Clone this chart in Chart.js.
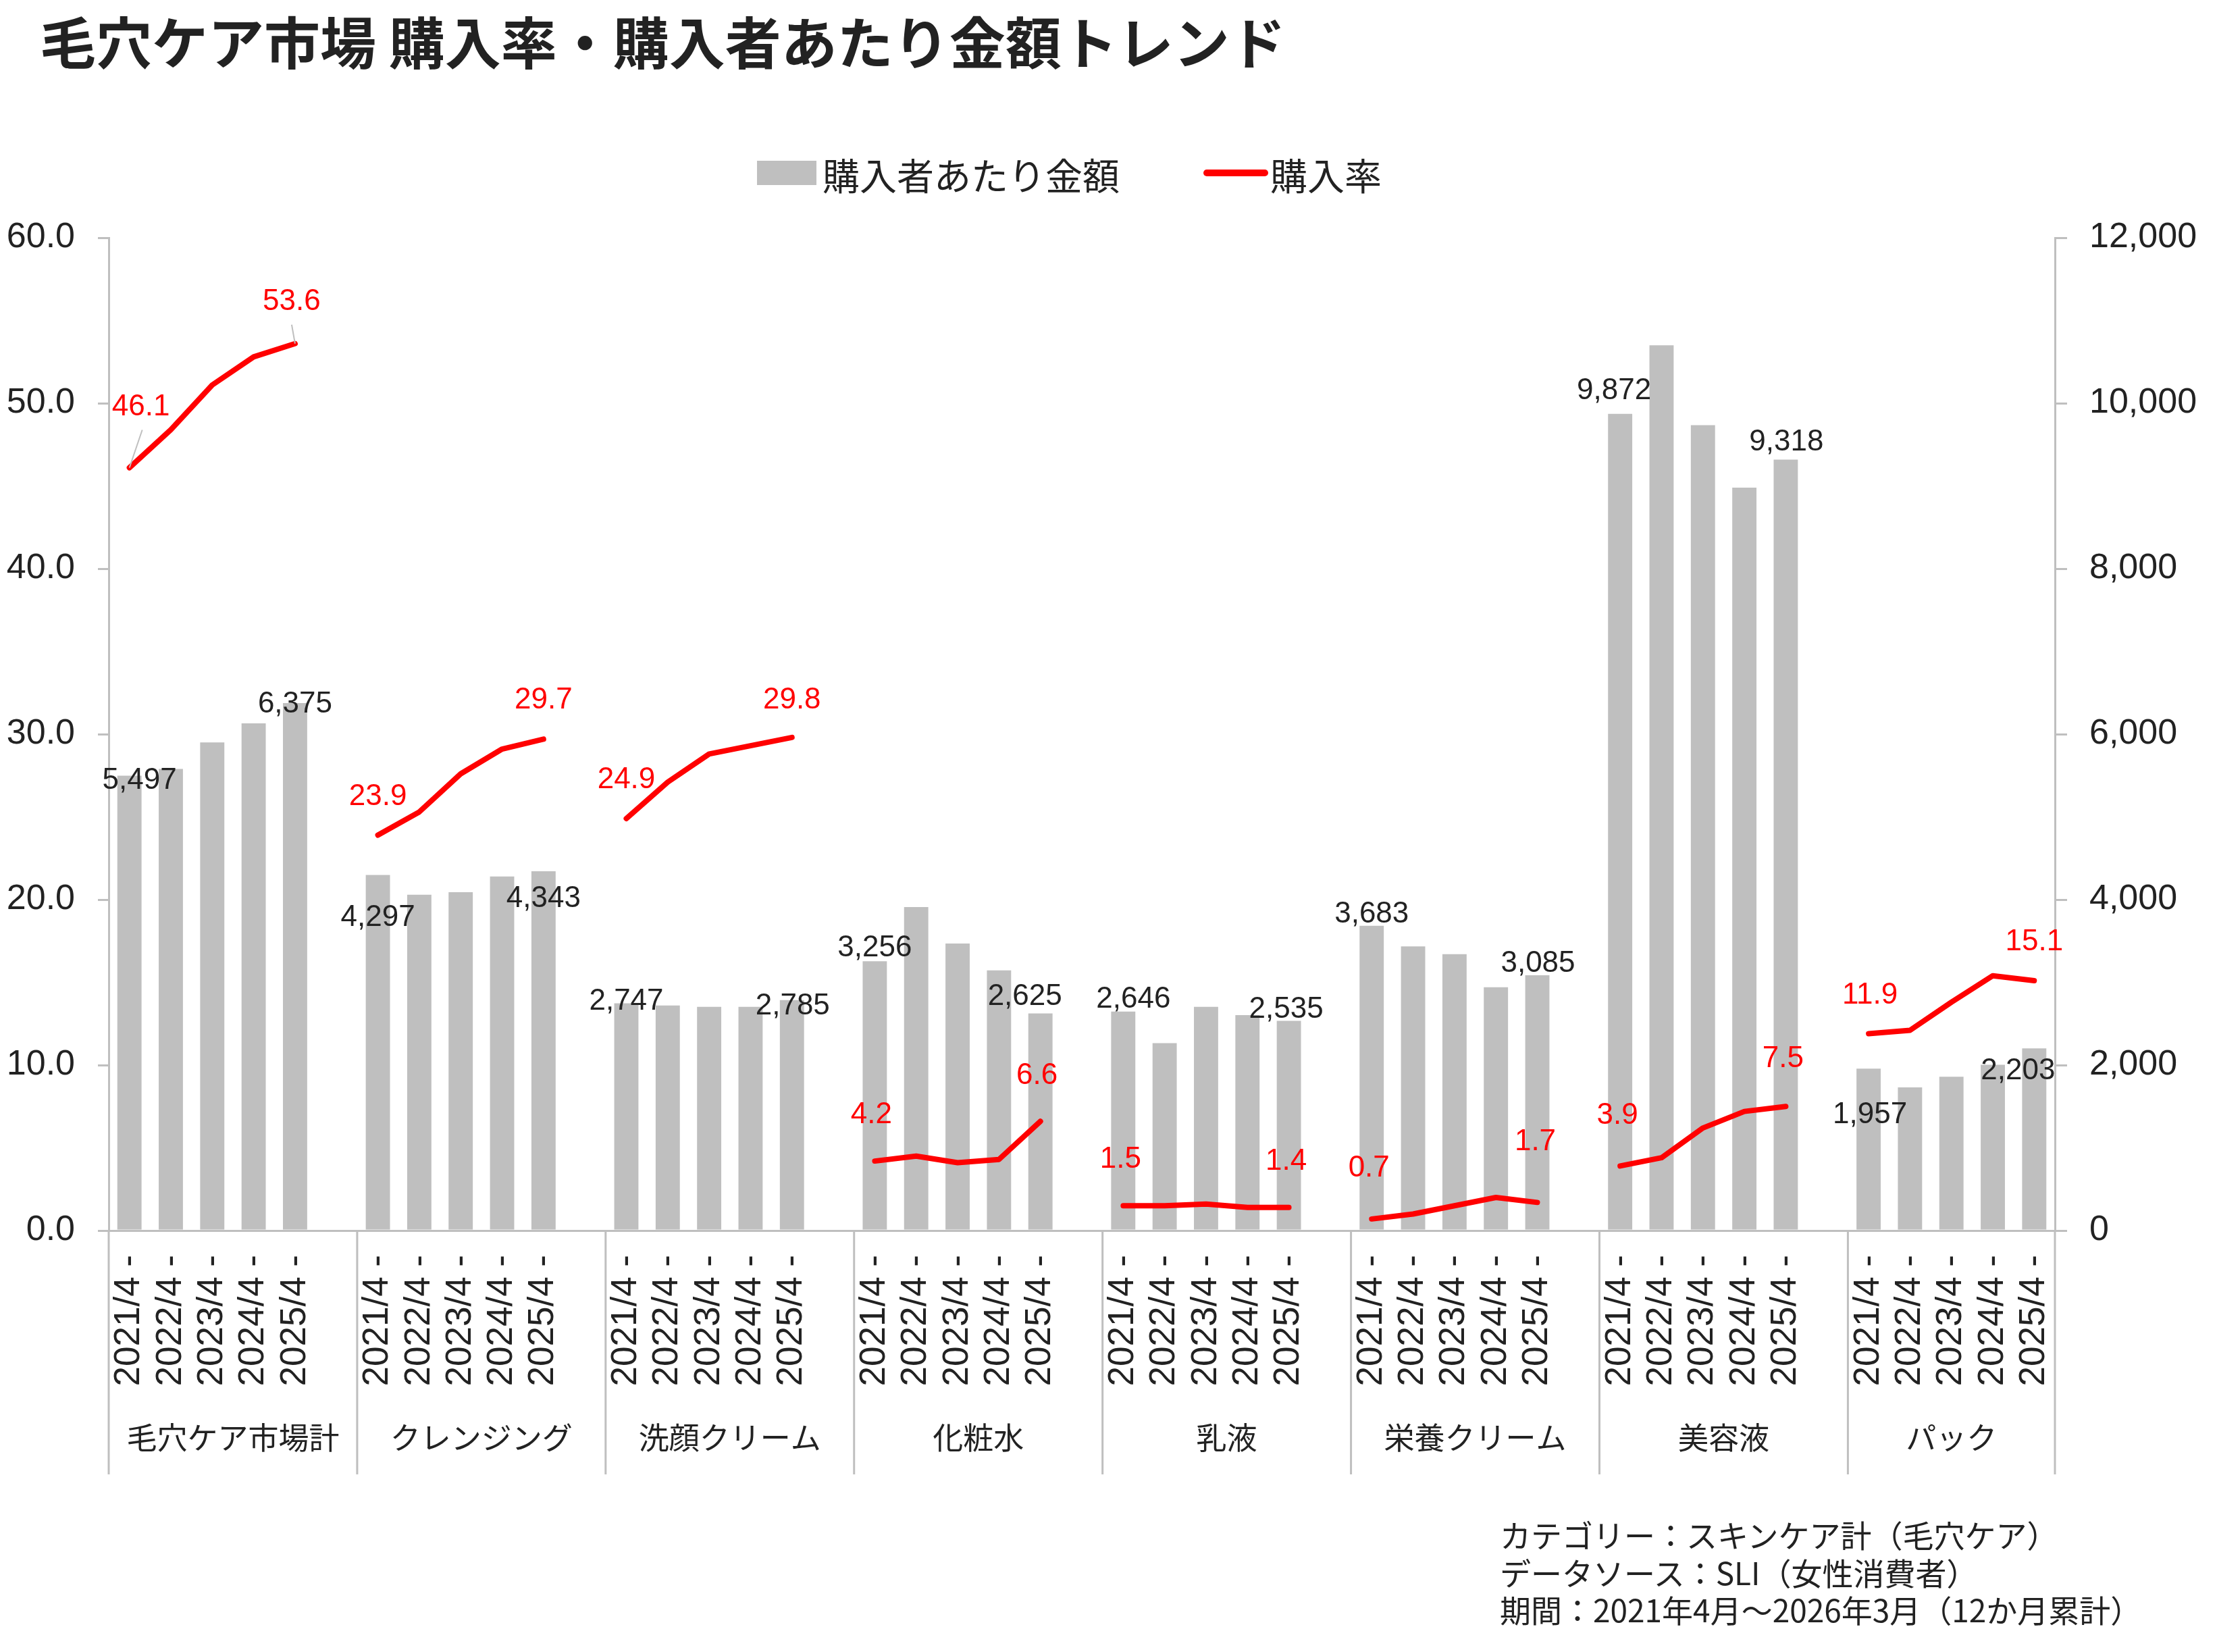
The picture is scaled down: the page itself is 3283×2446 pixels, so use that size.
<!DOCTYPE html>
<html><head><meta charset="utf-8">
<script src="https://cdn.jsdelivr.net/npm/chart.js@4.4.1/dist/chart.umd.min.js"></script>
<style>
html,body{margin:0;padding:0;background:#fff;}
#wrap{position:relative;width:3283px;height:2446px;overflow:hidden;background:#fff;}
#c{position:absolute;left:0;top:0;}
.t{position:absolute;white-space:nowrap;font-family:"Noto Sans CJK JP","Noto Sans",sans-serif;color:#222;}
.box{position:absolute;}
</style></head><body>
<div id="wrap">
<canvas id="c" width="3283" height="2446"></canvas>
<div class="t" id="title" style="left:59px;top:18px;font-size:83px;line-height:83px;font-weight:700;"></div>
<div class="box" style="left:1121px;top:238px;width:88px;height:36px;background:#BFBFBF"></div>
<div class="t" id="leg1" style="left:1218px;top:230px;font-size:55px;line-height:55px;"></div>
<div class="box" style="left:1782px;top:251px;width:96px;height:10px;border-radius:5px;background:#FF0000"></div>
<div class="t" id="leg2" style="left:1881px;top:230px;font-size:55px;line-height:55px;"></div>
<div class="t" id="foot" style="left:2221px;top:2244px;font-size:46px;line-height:55.5px;"></div>
</div>
<script>
// ---- text ----
const titleText = '毛穴ケア市場 購入率・購入者あたり金額トレンド';
const spendName = '購入者あたり金額';
const rateName = '購入率';
const footLines = ['カテゴリー：スキンケア計（毛穴ケア）','データソース：SLI（女性消費者）','期間：2021年4月～2026年3月（12か月累計）'];

// ---- categories ----
const groups = ['毛穴ケア市場計','クレンジング','洗顔クリーム','化粧水','乳液','栄養クリーム','美容液','パック'];
const periods = ['2021/4','2022/4','2023/4','2024/4','2025/4'];

// ---- 購入者あたり金額 (円) ----
const spendPore      = [5497, 5580, 5900, 6130, 6375];
const spendCleansing = [4297, 4060, 4090, 4280, 4343];
const spendFaceWash  = [2747, 2720, 2705, 2705, 2785];
const spendLotion    = [3256, 3910, 3470, 3145, 2625];
const spendMilk      = [2646, 2265, 2705, 2605, 2535];
const spendCream     = [3683, 3435, 3340, 2940, 3085];
const spendSerum     = [9872, 10700, 9735, 8980, 9318];
const spendMask      = [1957, 1730, 1860, 2005, 2203];

// ---- 購入率 (%) ----
const ratePore      = [46.1, 48.4, 51.1, 52.8, 53.6];
const rateCleansing = [23.9, 25.3, 27.6, 29.1, 29.7];
const rateFaceWash  = [24.9, 27.1, 28.8, 29.3, 29.8];
const rateLotion    = [4.2, 4.5, 4.1, 4.3, 6.6];
const rateMilk      = [1.5, 1.5, 1.6, 1.4, 1.4];
const rateCream     = [0.7, 1.0, 1.5, 2.0, 1.7];
const rateSerum     = [3.9, 4.4, 6.2, 7.2, 7.5];
const rateMask      = [11.9, 12.1, 13.8, 15.4, 15.1];

// ---- tick labels ----
const leftTicks  = [0, 10, 20, 30, 40, 50, 60];
const rightTicks = [0, 2000, 4000, 6000, 8000, 10000, 12000];

// ---- label placement (layout only) ----
const spendLabelShift = [[15,7],[0,2],[0,63],[0,41],[0,-3],[1,9],[0,-19],[-23,-25],[15,-18],[-4,-17],[0,-17],[1,-17],[-9,-34],[1,-26],[2,69],[-24,34]];
const rateLabelShift  = [[17,-90],[-5,-62],[0,-57],[0,-57],[0,-57],[0,-55],[-5,-68],[-5,-67],[-4,-68],[-4,-68],[-4,-75],[-3,-89],[-4,-75],[-4,-70],[2,-57],[0,-57]];
const rateLeaders = {0:[19,-56], 1:[-5,-28]};

document.getElementById('title').textContent = titleText;
document.getElementById('leg1').textContent = spendName;
document.getElementById('leg2').textContent = rateName;
document.getElementById('foot').innerHTML = footLines.map(s=>s.replace(/&/g,'&amp;').replace(/</g,'&lt;')).join('<br>');

const spendGroups = [spendPore, spendCleansing, spendFaceWash, spendLotion, spendMilk, spendCream, spendSerum, spendMask];
const rateGroups  = [ratePore, rateCleansing, rateFaceWash, rateLotion, rateMilk, rateCream, rateSerum, rateMask];

const labels = [], spendData = [], rateData = [], groupStart = [];
groups.forEach((g, gi) => {
  groupStart.push(labels.length);
  periods.forEach((p, pi) => {
    labels.push(p + ' -');
    spendData.push(spendGroups[gi][pi]);
    rateData.push(rateGroups[gi][pi]);
  });
  if (gi < groups.length - 1) { labels.push(''); spendData.push(null); rateData.push(null); }
});

const AX = '#BFBFBF';
const TXT = '#222222';
const NUMF = '"Liberation Sans", Arial, sans-serif';

const decor = {
  id: 'decor',
  afterDatasetsDraw(chart) {
    const ctx = chart.ctx, xs = chart.scales.x, area = chart.chartArea;
    const slot = xs.getPixelForValue(1) - xs.getPixelForValue(0);
    ctx.save();
    // group separators
    const bounds = groupStart.map(s => xs.getPixelForValue(s) - slot / 2);
    bounds.push(xs.getPixelForValue(labels.length - 1) + slot / 2);
    ctx.strokeStyle = AX; ctx.lineWidth = 3;
    bounds.forEach(b => { ctx.beginPath(); ctx.moveTo(b, area.bottom); ctx.lineTo(b, 2183); ctx.stroke(); });
    // group labels
    ctx.fillStyle = TXT; ctx.font = '45px "Noto Sans CJK JP"'; ctx.textAlign = 'center'; ctx.textBaseline = 'middle';
    groups.forEach((g, gi) => ctx.fillText(g, (bounds[gi] + bounds[gi + 1]) / 2, 2129));
    // data labels
    const barMeta = chart.getDatasetMeta(0), lineMeta = chart.getDatasetMeta(1);
    ctx.font = '44px ' + NUMF;
    let k = 0;
    groups.forEach((g, gi) => {
      [0, periods.length - 1].forEach(pi => {
        const idx = groupStart[gi] + pi;
        const be = barMeta.data[idx];
        const bs = spendLabelShift[k];
        ctx.fillStyle = TXT;
        ctx.fillText(spendData[idx].toLocaleString('en-US'), be.x + bs[0], be.y + bs[1]);
        const le = lineMeta.data[idx];
        const rs = rateLabelShift[k];
        if (rateLeaders[k]) {
          ctx.strokeStyle = AX; ctx.lineWidth = 2;
          ctx.beginPath(); ctx.moveTo(le.x, le.y); ctx.lineTo(le.x + rateLeaders[k][0], le.y + rateLeaders[k][1]); ctx.stroke();
        }
        ctx.fillStyle = '#FF0000';
        ctx.fillText(rateData[idx].toFixed(1), le.x + rs[0], le.y + rs[1]);
        k++;
      });
    });
    ctx.restore();
  }
};

new Chart(document.getElementById('c'), {
  data: {
    labels: labels,
    datasets: [
      { type: 'bar', label: spendName, data: spendData, yAxisID: 'y1', backgroundColor: '#BFBFBF',
        barPercentage: 0.585, categoryPercentage: 1.0, order: 1 },
      { type: 'line', label: rateName, data: rateData, yAxisID: 'y', borderColor: '#FF0000', borderWidth: 8,
        pointRadius: 0, pointHoverRadius: 0, spanGaps: false, tension: 0, borderCapStyle: 'round', borderJoinStyle: 'round',
        fill: false, order: 0 }
    ]
  },
  options: {
    responsive: false, animation: false, devicePixelRatio: 1,
    layout: { padding: { top: 352, bottom: 324, left: 0, right: 0 } },
    plugins: { legend: { display: false }, title: { display: false }, tooltip: { enabled: false } },
    scales: {
      x: {
        type: 'category', offset: true,
        grid: { display: false, drawTicks: false },
        border: { display: true, color: AX, width: 3 },
        ticks: { autoSkip: false, maxRotation: 90, minRotation: 90, padding: 36, color: TXT, font: { family: NUMF, size: 53 } },
        afterFit(s) { s.height = 300; }
      },
      y: {
        position: 'left', min: 0, max: 60,
        afterBuildTicks(s) { s.ticks = leftTicks.map(v => ({ value: v })); },
        grid: { drawOnChartArea: false, drawTicks: true, tickLength: 16, color: AX, lineWidth: 3 },
        border: { display: true, color: AX, width: 3 },
        ticks: { padding: 34, color: TXT, font: { family: NUMF, size: 52 }, callback: v => Number(v).toFixed(1) },
        afterFit(s) { s.width = 161; }
      },
      y1: {
        position: 'right', min: 0, max: 12000,
        afterBuildTicks(s) { s.ticks = rightTicks.map(v => ({ value: v })); },
        grid: { drawOnChartArea: false, drawTicks: true, tickLength: 18, color: AX, lineWidth: 3 },
        border: { display: true, color: AX, width: 3 },
        ticks: { padding: 33, color: TXT, font: { family: NUMF, size: 52 }, callback: v => Number(v).toLocaleString('en-US') },
        afterFit(s) { s.width = 240; }
      }
    }
  },
  plugins: [decor]
});
</script>
</body></html>
